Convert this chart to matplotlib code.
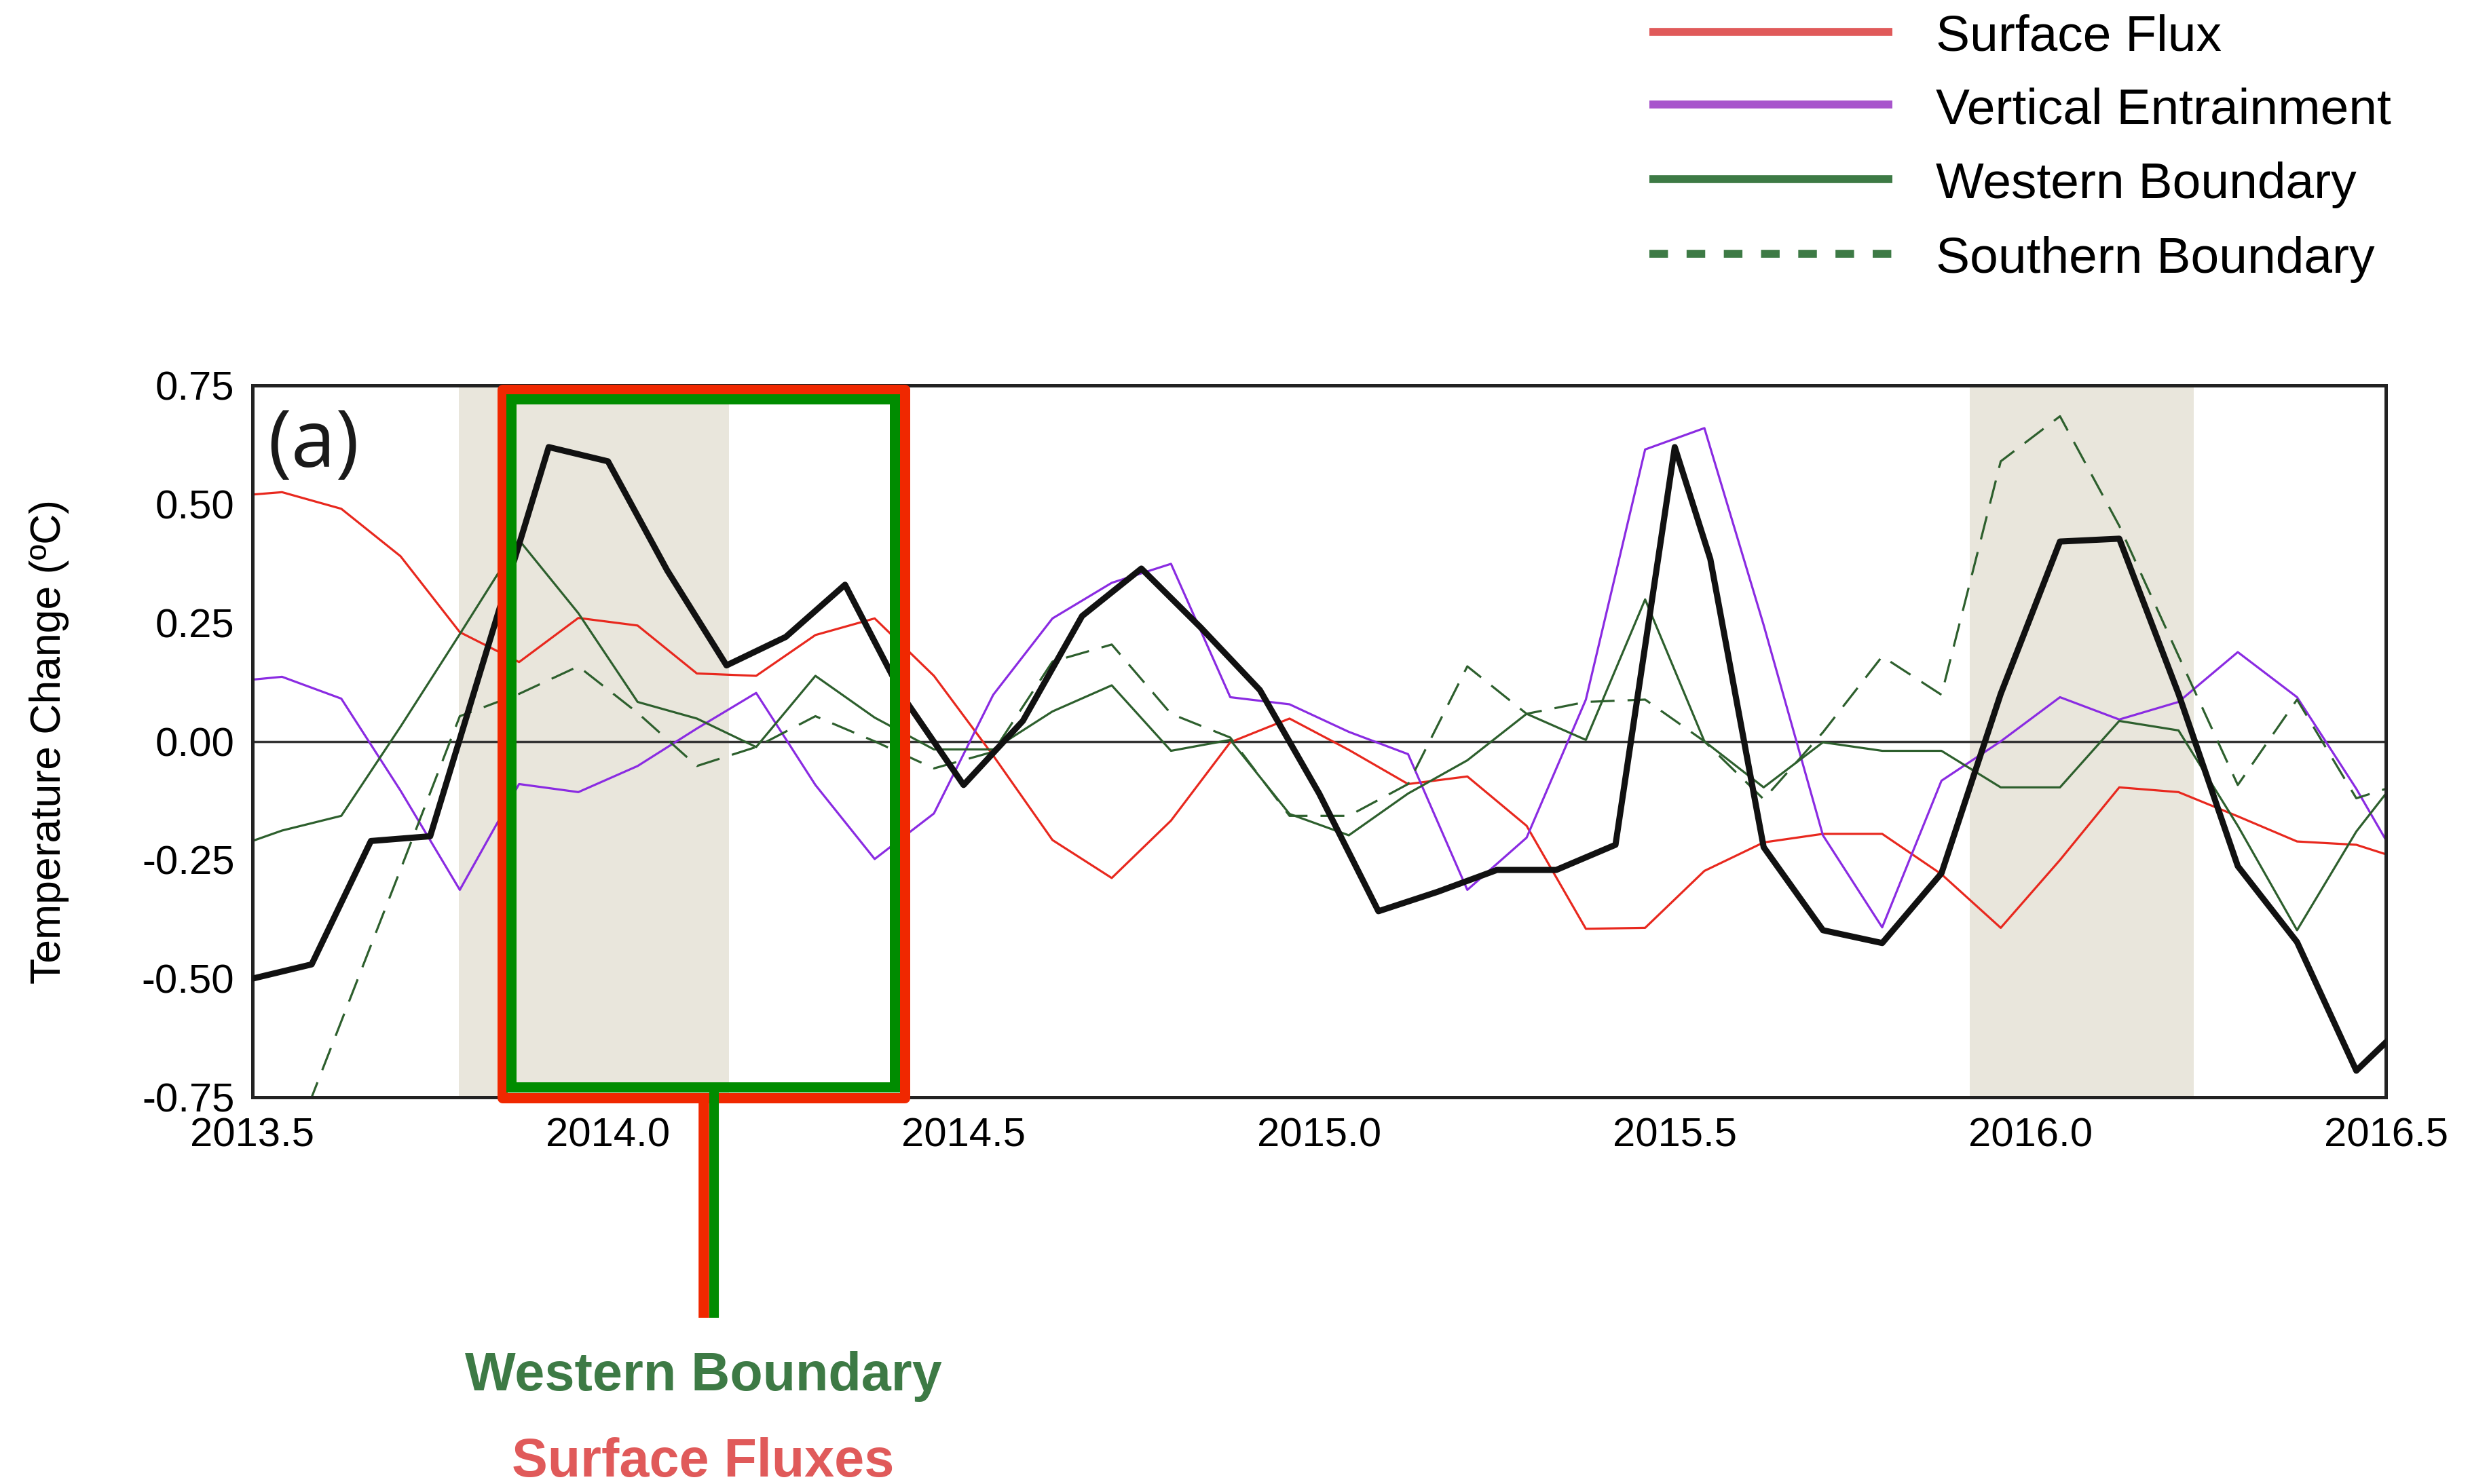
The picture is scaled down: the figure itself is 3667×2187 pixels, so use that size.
import matplotlib
matplotlib.use('Agg')
import matplotlib.pyplot as plt
from matplotlib.patches import Rectangle
from matplotlib.lines import Line2D

plt.rcParams['font.family'] = ['Liberation Sans', 'DejaVu Sans']
plt.rcParams['axes.unicode_minus'] = False

# meses desde 2013.5 (componentes a meio do mes, total no inicio)
meses = [0] + [m + 0.5 for m in range(36)] + [36]
meses_total = list(range(25)) + [24.6] + [m + 0.5 for m in range(25, 36)] + [36]

total = [-0.50, -0.47, -0.21, -0.20, 0.21, 0.62, 0.59, 0.36, 0.16, 0.22, 0.33, 0.09,
         -0.092, 0.043, 0.264, 0.364, 0.24, 0.108, -0.11, -0.358, -0.317, -0.271, -0.271,
         -0.218, 0.62, 0.384, -0.223, -0.398, -0.425, -0.278, 0.10, 0.421, 0.427, 0.10,
         -0.263, -0.423, -0.694, -0.634]

surface_flux = [0.52, 0.525, 0.49, 0.39, 0.23, 0.167, 0.26, 0.244, 0.143, 0.138, 0.224,
                0.259, 0.138, -0.03, -0.208, -0.288, -0.167, -0.002, 0.048, -0.018, -0.09,
                -0.074, -0.178, -0.395, -0.393, -0.273, -0.213, -0.195, -0.195, -0.28,
                -0.393, -0.25, -0.097, -0.107, -0.158, -0.211, -0.218, -0.238]

vertical_entr = [0.13, 0.136, 0.09, -0.104, -0.313, -0.09, -0.107, -0.052, 0.027, 0.102,
                 -0.092, -0.248, -0.152, 0.098, 0.259, 0.334, 0.374, 0.093, 0.078, 0.02,
                 -0.027, -0.313, -0.203, 0.088, 0.615, 0.66, 0.245, -0.198, -0.392, -0.083,
                 0.0, 0.093, 0.046, 0.083, 0.188, 0.093, -0.10, -0.208]

western = [-0.21, -0.188, -0.157, 0.031, 0.226, 0.424, 0.27, 0.083, 0.048, -0.012, 0.138,
           0.05, -0.017, -0.017, 0.063, 0.118, -0.02, 0.003, -0.153, -0.198, -0.11, -0.04,
           0.058, 0.003, 0.299, 0.0, -0.097, -0.002, -0.02, -0.02, -0.097, -0.097, 0.043,
           0.023, -0.178, -0.398, -0.19, -0.11]

southern = [float('nan'), -0.91, -0.59, -0.27, 0.053, 0.10, 0.158, 0.06, -0.052, -0.012,
            0.053, 0.0, -0.057, -0.022, 0.168, 0.204, 0.058, 0.008, -0.157, -0.157, -0.09,
            0.158, 0.058, 0.083, 0.088, 0.0, -0.122, 0.019, 0.179, 0.098, 0.59, 0.685,
            0.454, 0.18, -0.092, 0.088, -0.12, -0.10]

faixas = [(2013.79, 2014.17), (2015.915, 2016.23)]

anos = [2013.5 + m / 12 for m in meses]
anos_total = [2013.5 + m / 12 for m in meses_total]

fig = plt.figure(figsize=(36.67, 21.87), dpi=100)
ax = fig.add_axes([0.1014, 0.2606, 0.8572, 0.4797])

for a, b in faixas:
    ax.axvspan(a, b, color='#E9E6DC', lw=0, zorder=0)
ax.axhline(0, color='#333333', lw=2.5, zorder=1)

ax.plot(anos, surface_flux, color='#E8281E', lw=2.3, zorder=2)
ax.plot(anos, vertical_entr, color='#8A2BE2', lw=2.3, zorder=2)
ax.plot(anos, western, color='#2D5F2D', lw=2.3, zorder=2)
ax.plot(anos, southern, color='#2D5F2D', lw=2.3, dashes=(11, 6), zorder=2)
ax.plot(anos_total, total, color='#111111', lw=6.5, zorder=3)

ax.set_xlim(2013.5, 2016.5)
ax.set_ylim(-0.75, 0.75)
xt = [2013.5, 2014.0, 2014.5, 2015.0, 2015.5, 2016.0, 2016.5]
ax.set_xticks(xt)
ax.set_xticklabels(['%.1f' % v for v in xt])
yt = [-0.75, -0.5, -0.25, 0, 0.25, 0.5, 0.75]
ax.set_yticks(yt)
ax.set_yticklabels(['%.2f' % v for v in yt])
ax.tick_params(axis='x', length=0, pad=21, labelsize=43)
ax.tick_params(axis='y', length=0, pad=19, labelsize=43)
for s in ax.spines.values():
    s.set_linewidth(3.6)
    s.set_color('#222222')

ax.set_ylabel('Temperature Change (ºC)', fontsize=45)
ax.yaxis.set_label_coords(-0.086, 0.5)

ax.text(0.0285, 0.915, '(a)', transform=ax.transAxes, ha='center', va='center',
        fontsize=85, family='Open Sans', color='#1a1a1a')

# caixas de destaque
ax.add_patch(Rectangle((2013.851, -0.752), 0.566, 1.494, fill=False, ec='#F02800',
                       lw=10.8, joinstyle='round', clip_on=False, zorder=6))
ax.add_patch(Rectangle((2013.864, -0.728), 0.539, 1.45, fill=False, ec='#008C00',
                       lw=10.8, joinstyle='miter', clip_on=False, zorder=7))
ax.plot([2014.1347, 2014.1347], [-0.752, -1.214], color='#F02800', lw=11.2,
        solid_capstyle='butt', clip_on=False, zorder=6)
ax.plot([2014.149, 2014.149], [-0.728, -1.214], color='#008C00', lw=10.2,
        solid_capstyle='butt', clip_on=False, zorder=7)

fig.text(0.2825, 0.0631, 'Western Boundary', color='#3D7A45', fontsize=57,
         fontweight='bold', ha='center', va='baseline')
fig.text(0.2825, 0.005, 'Surface Fluxes', color='#E05A5A', fontsize=57,
         fontweight='bold', ha='center', va='baseline')

# legenda
nomes = ['Surface Flux', 'Vertical Entrainment', 'Western Boundary', 'Southern Boundary']
cores = ['#E05A5A', '#A855CC', '#3D7A45', '#3D7A45']
estilos = ['-', '-', '-', (0, (2.35, 2.35))]
ys = [0.9786, 0.9294, 0.8791, 0.8289]
for nome, cor, est, y in zip(nomes, cores, estilos, ys):
    fig.add_artist(Line2D([0.6627, 0.7603], [y, y], color=cor, lw=8.4, linestyle=est,
                          solid_capstyle='butt', dash_capstyle='butt'))
    fig.text(0.7778, y - 0.0128, nome, fontsize=54, va='baseline', ha='left')

plt.savefig('out.png', format='png', facecolor='white')
